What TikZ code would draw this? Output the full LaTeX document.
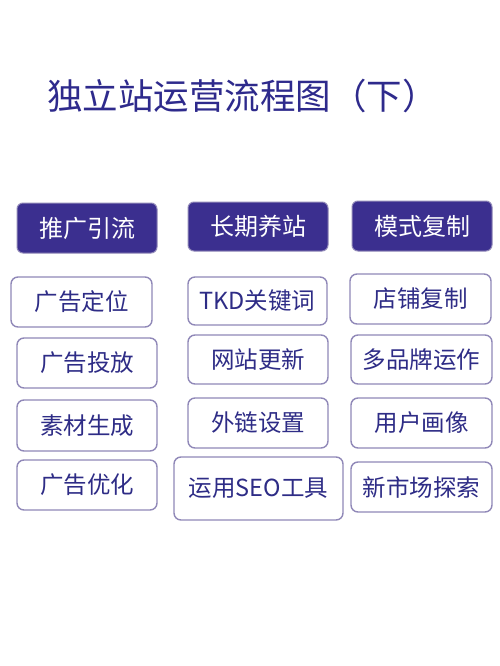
\documentclass[tikz,border=0pt]{standalone}
\usepackage{fontspec}
\setmainfont{Noto Sans CJK SC}
\definecolor{hdr}{HTML}{3B2F8F}
\definecolor{edge}{HTML}{9088B8}
\definecolor{txt}{HTML}{2E2C86}
\definecolor{ttl}{HTML}{2E2A8C}
\tikzset{
  hbox/.style={draw=edge, line width=1pt, fill=hdr, rounded corners=6pt, text=white, font=\fontsize{24}{27}\selectfont, inner sep=0pt},
  obox/.style={draw=edge, line width=1.4pt, fill=white, rounded corners=7pt, text=txt, font=\fontsize{23.5}{27}\selectfont, inner sep=0pt},
}
\begin{document}
\begin{tikzpicture}[x=1pt,y=-1pt]
\useasboundingbox (0,0) rectangle (500,666);
\fill[white] (0,0) rectangle (500,666);
\node[anchor=west, text=ttl, font=\fontsize{35.5}{40}\selectfont, inner sep=0pt] (title) at (47,96) {独立站运营流程图（下）};
% header boxes
\node[hbox, minimum width=140pt, minimum height=50pt] (h1) at (87,228) {推广引流};
\node[hbox, minimum width=140pt, minimum height=49pt] (h2) at (258,226.5) {长期养站};
\node[hbox, minimum width=140pt, minimum height=50pt] (h3) at (422,226) {模式复制};
% left column
\node[obox, minimum width=141pt, minimum height=50pt] (l1) at (81.5,302) {广告定位};
\node[obox, minimum width=140pt, minimum height=50pt] (l2) at (87,363) {广告投放};
\node[obox, minimum width=140pt, minimum height=51pt] (l3) at (87,425.5) {素材生成};
\node[obox, minimum width=140pt, minimum height=50pt] (l4) at (87,485) {广告优化};
% middle column
\node[obox, minimum width=139pt, minimum height=48pt] (m1) at (257.5,301) {TKD关键词};
\node[obox, minimum width=140pt, minimum height=49pt] (m2) at (258,359.5) {网站更新};
\node[obox, minimum width=140pt, minimum height=50pt] (m3) at (258,423) {外链设置};
\node[obox, minimum width=169pt, minimum height=63pt] (m4) at (258.5,488.5) {运用SEO工具};
% right column
\node[obox, minimum width=141pt, minimum height=50pt] (r1) at (420.5,299) {店铺复制};
\node[obox, minimum width=141pt, minimum height=49pt] (r2) at (421.5,359.5) {多品牌运作};
\node[obox, minimum width=141pt, minimum height=50pt] (r3) at (421.5,423) {用户画像};
\node[obox, minimum width=141pt, minimum height=50pt] (r4) at (421.5,487) {新市场探索};
\end{tikzpicture}
\end{document}
